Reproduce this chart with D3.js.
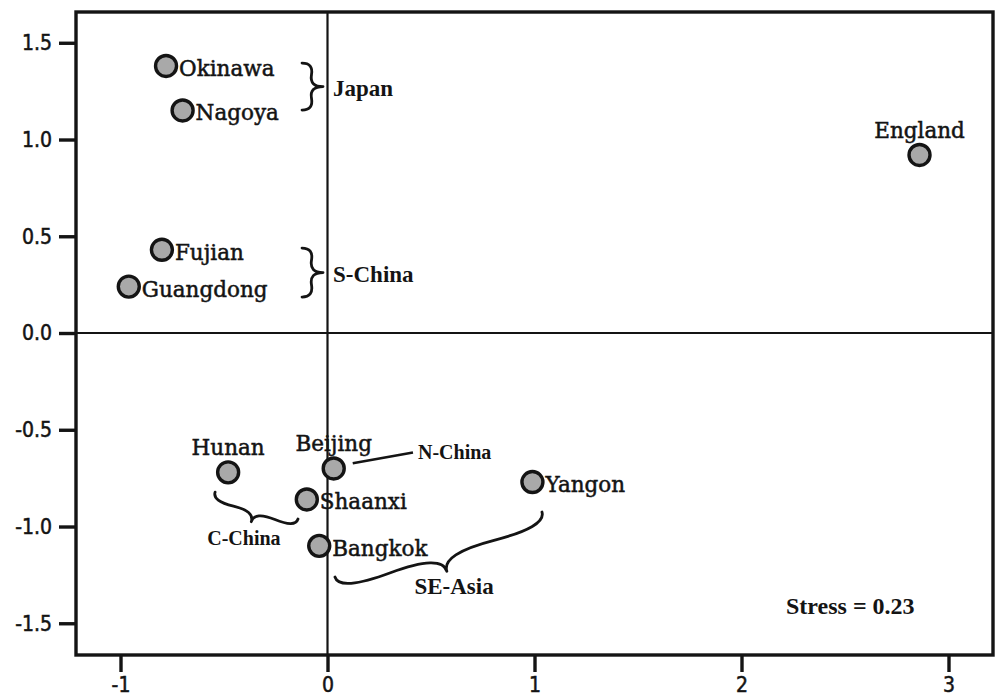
<!DOCTYPE html>
<html>
<head>
<meta charset="utf-8">
<script src="https://cdn.jsdelivr.net/npm/d3@7"></script>
<style>
  html, body { margin: 0; padding: 0; background: #fff; }
  svg { display: block; }
</style>
</head>
<body>
<div id="chart"></div>
<script>
// MDS configuration of regional samples (two dimensions)
const cities = ["Okinawa", "Nagoya", "Fujian", "Guangdong", "England", "Hunan", "Beijing", "Shaanxi", "Bangkok", "Yangon"];
const dim1   = [-0.78, -0.70, -0.80, -0.96, 2.86, -0.48, 0.03, -0.10, -0.04, 0.99];
const dim2   = [1.38, 1.15, 0.43, 0.24, 0.92, -0.72, -0.70, -0.86, -1.10, -0.77];
const labelAbove = ["Hunan", "Beijing", "England"];

const xTicks = [-1, 0, 1, 2, 3];
const yTicks = [-1.5, -1.0, -0.5, 0.0, 0.5, 1.0, 1.5];

// regional groupings marked with curly braces (ends in data units)
const groupNames = ["Japan", "S-China", "C-China", "SE-Asia"];
const braceFrom  = [[-0.123, 1.152], [-0.123, 0.186], [-0.543, -0.822], [0.036, -1.261]];
const braceTo    = [[-0.123, 1.395], [-0.123, 0.439], [-0.1425, -0.961], [1.036, -0.925]];
const braceDepth = [21, 21, 17, 28];

// N-China pointer line (data units)
const pointerFrom = [0.122, -0.673];
const pointerTo   = [0.413, -0.617];
const stressText = "Stress = 0.23";

const W = 997, H = 700;
const frame = { left: 76, right: 993, top: 12, bottom: 655 };

const x = d3.scaleLinear().domain([-1.215, 3.215]).range([frame.left, frame.right]);
const y = d3.scaleLinear().domain([-1.664, 1.659]).range([frame.bottom, frame.top]);

const svg = d3.select("#chart").append("svg")
  .attr("width", W).attr("height", H);
svg.append("rect").attr("width", W).attr("height", H).attr("fill", "#fff");

const ink = "#141414";
const tickFont = "'DejaVu Sans Condensed', 'DejaVu Sans', sans-serif";
const cityFont = "'DejaVu Serif', serif";
const noteFont = "'Liberation Serif', 'Times New Roman', serif";

// zero reference lines
svg.append("line")
  .attr("x1", x(0)).attr("x2", x(0)).attr("y1", frame.top).attr("y2", frame.bottom)
  .attr("stroke", ink).attr("stroke-width", 2.2);
svg.append("line")
  .attr("x1", frame.left).attr("x2", frame.right).attr("y1", y(0)).attr("y2", y(0))
  .attr("stroke", ink).attr("stroke-width", 2.2);

// axes
const fmtY = v => v.toFixed(1);
const yAxis = d3.axisLeft(y).tickValues(yTicks).tickFormat(fmtY).tickSize(17).tickSizeOuter(0).tickPadding(7);
const xAxis = d3.axisBottom(x).tickValues(xTicks).tickFormat(v => String(v)).tickSize(17).tickSizeOuter(0).tickPadding(5);

const gy = svg.append("g").attr("transform", `translate(${frame.left},0)`).call(yAxis);
const gx = svg.append("g").attr("transform", `translate(0,${frame.bottom})`).call(xAxis);
[gx, gy].forEach(g => {
  g.select(".domain").remove();
  g.selectAll(".tick line").attr("stroke", ink).attr("stroke-width", 3.4);
  g.selectAll(".tick text")
    .attr("fill", ink)
    .attr("stroke", ink).attr("stroke-width", 0.5)
    .style("font-family", tickFont)
    .style("font-size", "21px");
});

// plot frame
svg.append("rect")
  .attr("x", frame.left).attr("y", frame.top)
  .attr("width", frame.right - frame.left).attr("height", frame.bottom - frame.top)
  .attr("fill", "none").attr("stroke", ink).attr("stroke-width", 3.4);

// curly brace between two pixel points, bulging along the normal
function bracePath(p1, p2, w, q) {
  const [x1, y1] = p1, [x2, y2] = p2;
  let dx = x1 - x2, dy = y1 - y2;
  const len = Math.hypot(dx, dy);
  dx /= len; dy /= len;
  const nx = dy, ny = -dx;
  const at = (t, o) => [x1 - t * len * dx + o * w * nx, y1 - t * len * dy + o * w * ny];
  const c1 = at(0, q), q1 = at(0.25, 1 - q), tip = at(0.5, 1);
  const c2 = at(1, q), q2 = at(0.75, 1 - q);
  const p = a => a[0].toFixed(2) + "," + a[1].toFixed(2);
  return {
    d: `M${p(p1)}Q${p(c1)} ${p(q1)}T${p(tip)}M${p(p2)}Q${p(c2)} ${p(q2)}T${p(tip)}`,
    tip, nx, ny
  };
}

const braces = svg.append("g");
groupNames.forEach((name, i) => {
  const a = [x(braceFrom[i][0]), y(braceFrom[i][1])];
  const b = [x(braceTo[i][0]), y(braceTo[i][1])];
  const br = bracePath(a, b, braceDepth[i], 0.55);
  braces.append("path")
    .attr("d", br.d)
    .attr("fill", "none").attr("stroke", ink).attr("stroke-width", 2.8)
    .attr("stroke-linecap", "round");
  const sideways = Math.abs(br.nx) > Math.abs(br.ny);
  const small = name === "C-China";
  const t = braces.append("text")
    .text(name)
    .attr("fill", ink)
    .style("font-family", noteFont)
    .style("font-weight", "bold")
    .style("font-size", small ? "20px" : "23px");
  if (sideways) {
    t.attr("x", br.tip[0] + br.nx * 10).attr("y", br.tip[1] + 9).attr("text-anchor", "start");
  } else {
    t.attr("x", br.tip[0] + br.nx * 24).attr("y", br.tip[1] + br.ny * 24).attr("text-anchor", "middle");
  }
});

// N-China pointer
svg.append("line")
  .attr("x1", x(pointerFrom[0])).attr("y1", y(pointerFrom[1]))
  .attr("x2", x(pointerTo[0])).attr("y2", y(pointerTo[1]))
  .attr("stroke", ink).attr("stroke-width", 2.6);
svg.append("text")
  .text("N-China")
  .attr("x", x(pointerTo[0]) + 5).attr("y", y(pointerTo[1]) + 7)
  .attr("fill", ink)
  .style("font-family", noteFont).style("font-weight", "bold").style("font-size", "20px");

// points
const pts = cities.map((c, i) => ({ name: c, v1: dim1[i], v2: dim2[i] }));
svg.append("g").selectAll("circle").data(pts).join("circle")
  .attr("cx", d => x(d.v1)).attr("cy", d => y(d.v2))
  .attr("r", 10.5)
  .attr("fill", "#a9a9a9").attr("stroke", ink).attr("stroke-width", 3.4);

// point labels
svg.append("g").selectAll("text").data(pts).join("text")
  .text(d => d.name)
  .attr("x", d => labelAbove.includes(d.name) ? x(d.v1) : x(d.v1) + 13)
  .attr("y", d => labelAbove.includes(d.name) ? y(d.v2) - 17 : y(d.v2) + 10)
  .attr("text-anchor", d => labelAbove.includes(d.name) ? "middle" : "start")
  .attr("fill", ink)
  .attr("stroke", ink).attr("stroke-width", 0.5)
  .style("font-family", cityFont)
  .style("font-size", "21.5px");

// stress value
svg.append("text")
  .text(stressText)
  .attr("x", 786).attr("y", 614)
  .attr("fill", ink)
  .style("font-family", noteFont).style("font-weight", "bold").style("font-size", "24px");
</script>
</body>
</html>
